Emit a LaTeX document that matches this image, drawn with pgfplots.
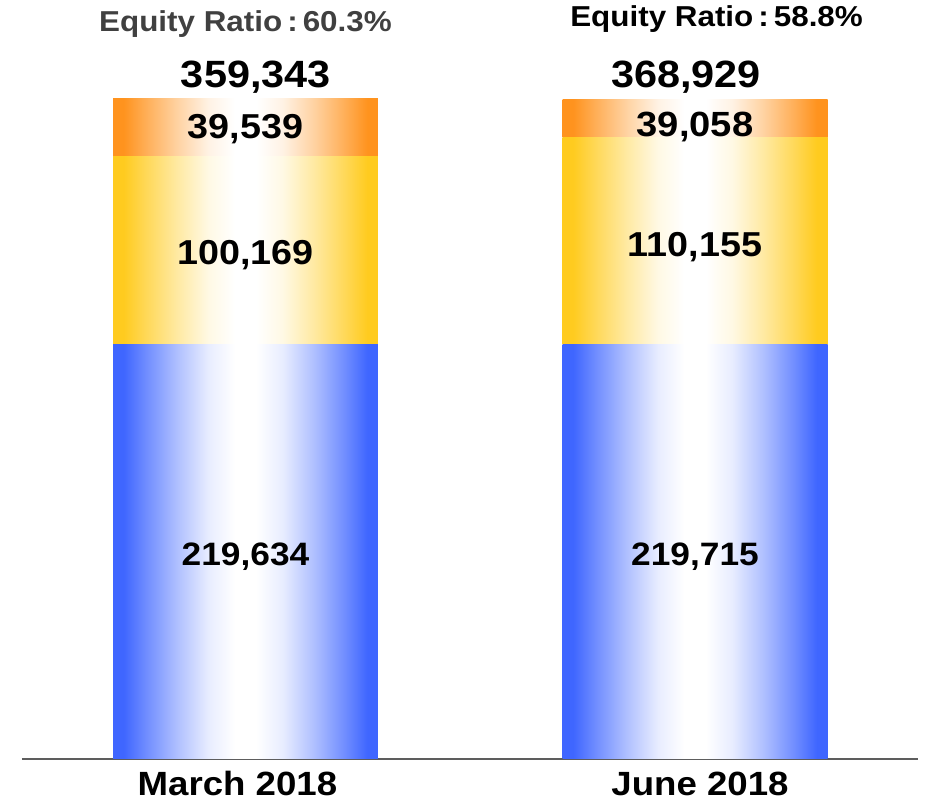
\documentclass[border=0pt]{standalone}
\usepackage{fontspec}
\setmainfont{Liberation Sans}[FakeStretch=1.09]
\usepackage{pgfplots}
\pgfplotsset{compat=1.18}

\definecolor{cblue}{HTML}{3F66FF}
\definecolor{cyellow}{HTML}{FFCB1F}
\definecolor{corange}{HTML}{FF931E}
\definecolor{cgray}{HTML}{404040}

% edge colour -> white centre -> edge colour, across each bar (soft profile)
\newcommand{\barshade}[2]{%
  \colorlet{#1-a}{#2!76!white}%
  \colorlet{#1-b}{#2!42!white}%
  \colorlet{#1-c}{#2!12!white}%
  \pgfdeclarehorizontalshading{#1}{100bp}{color(0bp)=(#2); color(25bp)=(#2); color(27bp)=(#2);
    color(31bp)=(#1-a); color(37bp)=(#1-b); color(43bp)=(#1-c); color(48bp)=(white);
    color(52bp)=(white); color(57bp)=(#1-c); color(63bp)=(#1-b); color(69bp)=(#1-a);
    color(73bp)=(#2); color(75bp)=(#2); color(100bp)=(#2)}}
\barshade{blueshade}{cblue}
\barshade{yellowshade}{cyellow}
\barshade{orangeshade}{corange}

\newcommand{\fs}[1]{\fontsize{#1}{#1}\selectfont\bfseries}

% one axis per bar, so that every bar gets its own shading
\pgfplotsset{
  baraxis/.style={
    scale only axis,
    width=448pt, height=330pt,
    xmin=-0.4972, xmax=1.4961,
    ymin=0, ymax=350.1,
    ybar stacked,
    bar width=0.5895,
    clip=false,
  },
}

\begin{document}
\begin{tikzpicture}
\begin{axis}[
  baraxis,
  axis x line=bottom,
  axis y line=none,
  x axis line style={-, draw=cgray!85, line width=0.75pt},
  xtick={0,1},
  xticklabels={{March 2018\kern8pt},{\kern5pt June 2018}},
  xtick style={draw=none},
  major tick length=0pt,
  xticklabel style={font=\fs{16.8}, anchor=base, yshift=-18.5pt},
  ytick=\empty,
]
% bar heights in thousands, as drawn (top segment is drawn shorter than its label)
\addplot[shade, shading=blueshade, draw=none] coordinates {(0,219.634)};
\addplot[shade, shading=yellowshade, draw=none] coordinates {(0,100.169)};
\addplot[shade, shading=orangeshade, draw=none] coordinates {(0,30.3)};

\coordinate (b1) at (axis cs:0,102.9);
\coordinate (b2) at (axis cs:1,102.9);
\coordinate (y1) at (axis cs:0,262.1);
\coordinate (y2) at (axis cs:1,266.3);
\coordinate (o1) at (axis cs:0,329.4);
\coordinate (o2) at (axis cs:1,330.0);
\coordinate (t1) at (axis cs:0.023,356.0);
\coordinate (t2) at (axis cs:0.98,356.0);
\coordinate (e1) at (axis cs:0,385.7);
\coordinate (e2) at (axis cs:1.048,388.3);
\coordinate (bbsw) at (rel axis cs:0,0);
\coordinate (bbne) at (rel axis cs:1,1);
\end{axis}
\begin{axis}[baraxis, axis lines=none]
\addplot[shade, shading=blueshade, draw=none] coordinates {(1,219.715)};
\addplot[shade, shading=yellowshade, draw=none] coordinates {(1,110.155)};
\addplot[shade, shading=orangeshade, draw=none] coordinates {(1,20.2)};
\end{axis}

\node[font=\fs{16.2}, anchor=base] at (b1) {219,634};
\node[font=\fs{16.2}, anchor=base] at (b2) {219,715};
\node[font=\fs{17.3}, anchor=base] at (y1) {100,169};
\node[font=\fs{17.3}, anchor=base] at (y2) {110,155};
\node[font=\fs{17.3}, anchor=base] at (o1) {39,539};
\node[font=\fs{17.5}, anchor=base] at (o2) {39,058};
\node[font=\fs{19.0}, anchor=base] at (t1) {359,343};
\node[font=\fs{19.0}, anchor=base] at (t2) {368,929};
\node[font=\fs{14.4}, text=cgray, anchor=base] at (e1) {Equity Ratio\kern2.5pt:\kern2.5pt60.3\%};
\node[font=\fs{14.4}, text=black, anchor=base] at (e2) {Equity Ratio\kern2.5pt:\kern2.5pt58.8\%};

\pgfresetboundingbox
\path ([xshift=-11pt,yshift=-22.5pt]bbsw) rectangle ([xshift=5pt,yshift=49.5pt]bbne);
\end{tikzpicture}
\end{document}
